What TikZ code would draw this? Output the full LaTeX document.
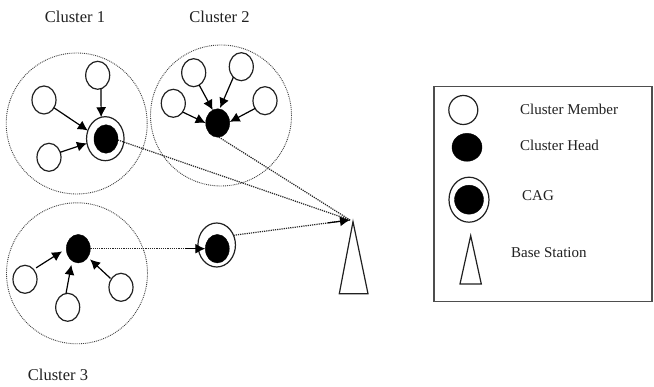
\documentclass[tikz,border=0pt]{standalone}
\usepackage{fontspec}
\setmainfont{Liberation Serif}
\usetikzlibrary{shapes.geometric,arrows.meta}
\definecolor{ink}{gray}{0.13}
\tikzset{
  clusterzone/.style={ellipse,draw=black!75,densely dotted,line width=0.9pt,inner sep=0pt,outer sep=0pt,minimum width=141pt,minimum height=141pt},
  membernode/.style={ellipse,draw=ink,line width=1.2pt,fill=white,inner sep=0pt,outer sep=0pt,minimum width=24pt,minimum height=28pt},
  headnode/.style={ellipse,draw=black,fill=black,inner sep=0pt,outer sep=0pt,minimum width=24pt,minimum height=28.5pt},
  cagring/.style={ellipse,draw=ink,line width=1.2pt,fill=white,inner sep=0pt,outer sep=0pt,minimum width=37.5pt,minimum height=44pt},
  memberlink/.style={draw=black,line width=1.2pt,-{Latex[length=10pt,width=10pt]}},
  dotlink/.style={draw=black!85,line width=1.2pt,densely dotted},
  towershape/.style={draw=ink,line width=1.2pt,line join=miter},
  clusterlabel/.style={font=\fontsize{16.5}{18}\selectfont,text=ink,inner sep=0pt},
  legendlabel/.style={font=\fontsize{15}{17}\selectfont,text=ink,inner sep=0pt,anchor=west}
}
\begin{document}
\begin{tikzpicture}[x=1pt,y=-1pt]
\useasboundingbox[fill=white] (0,0) rectangle (654,387);
% cluster zones
\node[clusterzone] (z1) at (76.7,123.5) {};
\node[clusterzone] (z2) at (221,115.5) {};
\node[clusterzone] (z3) at (77,273.3) {};
% labels
\node[clusterlabel] (l1) at (75,17.3) {Cluster 1};
\node[clusterlabel] (l2) at (219.5,17.3) {Cluster 2};
\node[clusterlabel] (l3) at (58,375) {Cluster 3};
% cluster 1
\node[membernode] (a1) at (97.7,75.3) {};
\node[membernode] (a2) at (44,100) {};
\node[membernode] (a3) at (49,157.3) {};
\node[cagring] (cag1) at (105.3,138.7) {};
\node[headnode] (h1) at (106,139) {};
% cluster 2
\node[membernode] (b1) at (193.7,72.7) {};
\node[membernode] (b2) at (241.3,66.7) {};
\node[membernode] (b3) at (173.3,103.3) {};
\node[membernode] (b4) at (265,100.7) {};
\node[headnode] (h2) at (217.7,123) {};
% cluster 3
\node[headnode] (h3) at (78.3,248.7) {};
\node[membernode] (c1) at (25,279.3) {};
\node[membernode] (c2) at (67.7,307.3) {};
\node[membernode] (c3) at (121,287.3) {};
% relay CAG
\node[cagring] (cag3) at (216.7,245) {};
\node[headnode] (h4) at (217.3,248.7) {};
% base station
\coordinate (apex) at (353,221.7);
\coordinate (baseL) at (339.3,293.7);
\coordinate (baseR) at (368,293.7);
\coordinate (tip) at (350,220);
\draw[towershape] (apex) -- (baseR) -- (baseL) -- cycle;
% member links
\draw[memberlink] (a1.-76) -- (cag1.101);
\draw[memberlink] (a2.-38) -- (cag1.155);
\draw[memberlink] (a3.24) -- (cag1.194);
\draw[memberlink] (b1.-66) -- (h2.111);
\draw[memberlink,shorten >=1pt] (b2.-127) -- (h2.82);
\draw[memberlink] (b3.-43) -- (h2.180);
\draw[memberlink] (b4.-142) -- (h2.5);
\draw[memberlink,shorten >=5pt,shorten <=3pt] (c1.49) -- (h3.180);
\draw[memberlink,shorten >=4pt] (c2.97) -- (h3.243);
\draw[memberlink,shorten >=3pt,shorten <=1pt] (c3.140) -- (h3.-42);
% dotted links
\draw[dotlink] (h1.-5) -- (tip);
\draw[dotlink] (h2.-85) -- (tip);
\draw[dotlink] (h3.0) -- (h4.180);
\draw[dotlink] (cag3.30) -- (tip);
% solid tips on the dotted links
\draw[memberlink,shorten <=95pt] (h3.0) -- (h4.180);
\draw[memberlink,shorten <=95pt] (cag3.30) -- (tip);
% legend
\node[draw=ink!80,line width=1.2pt,inner sep=0pt,outer sep=0pt,minimum width=218pt,minimum height=215pt,anchor=north west] (legend) at (434,86.7) {};
\node[membernode,minimum width=29pt,minimum height=29pt] (k1) at (463.3,110) {};
\node[headnode,minimum width=30pt,minimum height=28pt] (k2) at (467,147.3) {};
\node[cagring,minimum width=40pt,minimum height=45pt] (k3) at (469,199.7) {};
\node[headnode,minimum width=29pt,minimum height=29pt] (k3h) at (469,199.7) {};
\coordinate (kA) at (470.7,235.7);
\coordinate (kL) at (460,284);
\coordinate (kR) at (481.3,284);
\draw[towershape] (kA) -- (kR) -- (kL) -- cycle;
\node[legendlabel] (t1) at (520,109.3) {Cluster Member};
\node[legendlabel] (t2) at (520,145) {Cluster Head};
\node[legendlabel] (t3) at (522,195.7) {CAG};
\node[legendlabel] (t4) at (511,253) {Base Station};
\end{tikzpicture}
\end{document}
